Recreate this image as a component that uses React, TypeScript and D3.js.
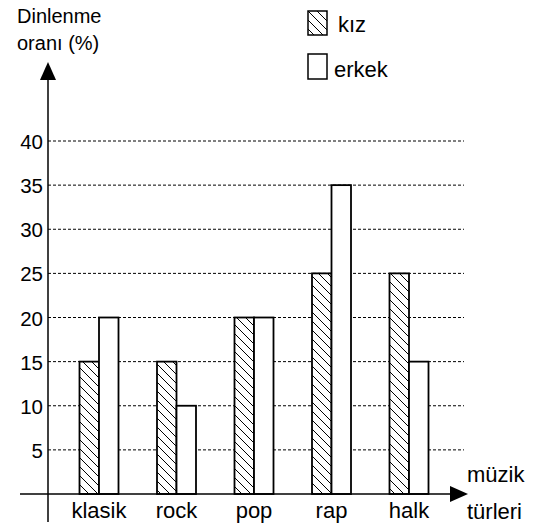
import React from 'react'
import * as d3 from 'd3'

const categories = ['klasik', 'rock', 'pop', 'rap', 'halk']
const series = ['kız', 'erkek']
const kizValues = [15, 15, 20, 25, 25]
const erkekValues = [20, 10, 20, 35, 15]
const yTicks = [5, 10, 15, 20, 25, 30, 35, 40]

const W = 538
const H = 526
const axisX = 48
const axisY = 494
const font = 'Arial, "Liberation Sans", sans-serif'

export default function App() {
  const y = d3.scaleLinear().domain([0, 40]).range([axisY, 141])
  const x0 = d3.scaleBand().domain(categories).range([60.25, 447.75]).padding(0)
  const step = x0.step()
  const x1 = d3
    .scaleBand()
    .domain(series)
    .range([step / 2 - 19.5, step / 2 + 19.5])
    .padding(0)

  const rows = categories.map((c, i) => ({ cat: c, kız: kizValues[i], erkek: erkekValues[i] }))

  return (
    <svg width={W} height={H} style={{ position: 'absolute', left: 0, top: 0 }} fontFamily={font}>
      <defs>
        <pattern id="hatch" patternUnits="userSpaceOnUse" width={9} height={9}>
          <rect width={9} height={9} fill="#fff" />
          <path d="M-1,-1 L10,10 M-1,8 L1,10 M8,-1 L10,1" stroke="#000" strokeWidth={1} />
        </pattern>
      </defs>
      <rect width={W} height={H} fill="#fff" />

      {/* gridlines */}
      {yTicks.map(t => (
        <line
          key={'g' + t}
          x1={axisX}
          x2={464}
          y1={y(t)}
          y2={y(t)}
          stroke="#000"
          strokeWidth={1}
          strokeDasharray="3,2"
        />
      ))}

      {/* tick labels */}
      {yTicks.map(t => (
        <text key={'t' + t} x={43} y={y(t) + 8} fontSize={20.5} textAnchor="end" fill="#000">
          {t}
        </text>
      ))}

      {/* bars */}
      {rows.map(r =>
        series.map(s => (
          <rect
            key={r.cat + s}
            x={(x0(r.cat) as number) + (x1(s) as number)}
            y={y(r[s as 'kız' | 'erkek'])}
            width={x1.bandwidth()}
            height={axisY - y(r[s as 'kız' | 'erkek'])}
            fill={s === 'kız' ? 'url(#hatch)' : '#fff'}
            stroke="#000"
            strokeWidth={1.8}
          />
        ))
      )}

      {/* axes */}
      <line x1={axisX} x2={axisX} y1={522} y2={76} stroke="#000" strokeWidth={1.5} />
      <path d={`M${axisX - 8},80 L${axisX},62 L${axisX + 8},80 Z`} fill="#000" />
      <line x1={20} x2={455} y1={axisY} y2={axisY} stroke="#000" strokeWidth={1.5} />
      <path d={`M450,${axisY - 8} L468,${axisY} L450,${axisY + 8} Z`} fill="#000" />

      {/* category labels */}
      {categories.map(c => (
        <text
          key={'c' + c}
          x={(x0(c) as number) + step / 2}
          y={518}
          fontSize={22}
          textAnchor="middle"
          fill="#000"
        >
          {c}
        </text>
      ))}

      {/* axis titles */}
      <text x={17} y={23} fontSize={20} fill="#000">Dinlenme</text>
      <text x={17} y={50} fontSize={20} fill="#000">oranı (%)</text>
      <text x={467} y={482} fontSize={22} fill="#000">müzik</text>
      <text x={467} y={519} fontSize={22} fill="#000">türleri</text>

      {/* legend */}
      <rect x={308} y={11} width={19} height={24} fill="url(#hatch)" stroke="#000" strokeWidth={1.5} />
      <text x={338} y={32} fontSize={22} fill="#000">kız</text>
      <rect x={308} y={54} width={19} height={25} fill="#fff" stroke="#000" strokeWidth={1.5} />
      <text x={334} y={77} fontSize={22} fill="#000">erkek</text>
    </svg>
  )
}
